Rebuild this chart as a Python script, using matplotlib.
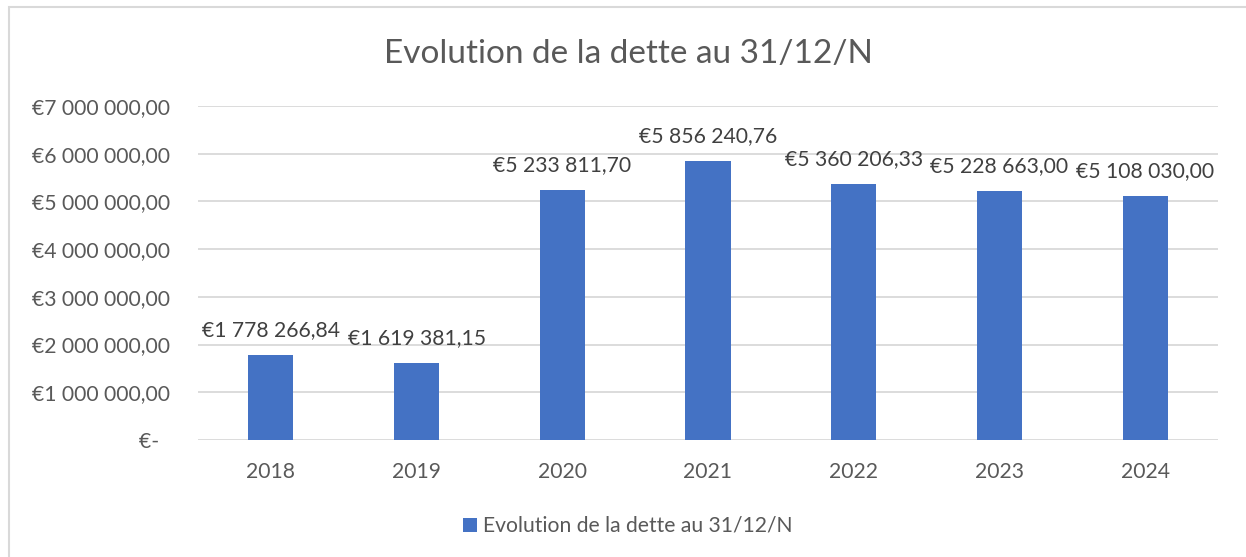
import matplotlib
matplotlib.use("Agg")
import matplotlib.pyplot as plt
from matplotlib.patches import Rectangle

# Data
years = ["2018", "2019", "2020", "2021", "2022", "2023", "2024"]
dette = [1778266.84, 1619381.15, 5233811.70, 5856240.76, 5360206.33, 5228663.00, 5108030.00]
titre = "Evolution de la dette au 31/12/N"

TXT = "#595959"
BAR = "#4472C4"
GRID = "#D9D9D9"
FS = 15.2

plt.rcParams["font.family"] = ["Lato", "DejaVu Sans"]


def euro(v):
    if v == 0:
        return "€-  "
    s = f"{v:,.2f}"
    s = s.replace(",", " ").replace(".", ",")
    return "€" + s


W, H = 1246, 557
fig = plt.figure(figsize=(W / 100, H / 100), dpi=100)

# chart border (Excel-style frame, open to the right and bottom)
fig.patches.append(Rectangle((9 / W, -0.1), 1.2, 1 - 7 / H + 0.1, transform=fig.transFigure,
                             fill=False, edgecolor=GRID, linewidth=1.5))

left, right, top, bottom = 198, 1218, 106, 440
ax = fig.add_axes([left / W, 1 - bottom / H, (right - left) / W, (bottom - top) / H])

x = range(len(years))
ax.bar(x, dette, width=0.31, color=BAR, zorder=3)
ax.set_xlim(-0.5, len(years) - 0.5)
ax.set_ylim(0, 7000000)
ax.set_yticks(range(0, 7000001, 1000000))
ax.set_yticklabels([euro(v) for v in range(0, 7000001, 1000000)])
ax.set_xticks(list(x))
ax.set_xticklabels(years)
ax.grid(axis="y", color=GRID, linewidth=1.3, zorder=0)
for s in ax.spines.values():
    s.set_visible(False)
ax.tick_params(length=0, colors=TXT, labelsize=FS)
ax.tick_params(axis="y", pad=20)
ax.tick_params(axis="x", pad=27.4)
for lab in ax.get_xticklabels():
    lab.set_va("baseline")

# data labels above the bars
for i, v in zip(x, dette):
    ax.annotate(euro(v), (i, v), xytext=(0, 13.5), textcoords="offset points",
                ha="center", va="baseline", color="#404040", fontsize=FS)

fig.text(628 / W, 1 - 63 / H, titre, ha="center", va="baseline", color=TXT, fontsize=24)

# legend
fig.patches.append(Rectangle((463 / W, 1 - 532 / H), 14 / W, 14 / H, transform=fig.transFigure,
                             facecolor=BAR, edgecolor="none"))
fig.text(483 / W, 1 - 532 / H, titre, ha="left", va="baseline", color=TXT, fontsize=FS)

fig.savefig("out.png", dpi=100)
